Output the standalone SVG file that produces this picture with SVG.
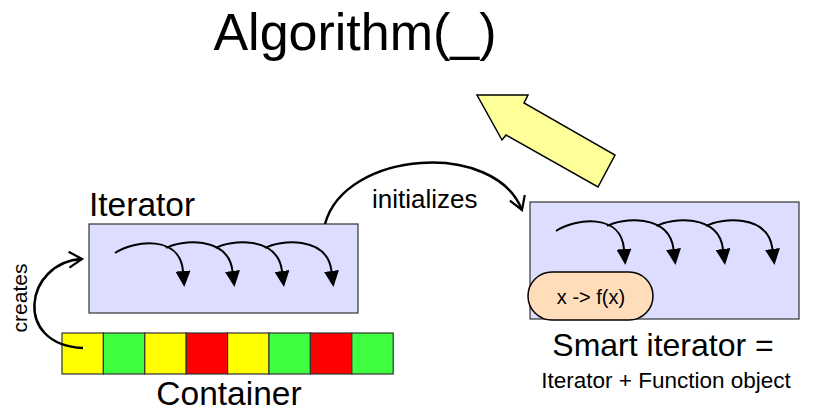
<svg xmlns="http://www.w3.org/2000/svg" width="819" height="411" viewBox="0 0 819 411">
  <style>
    text { font-family: "Liberation Sans", Arial, sans-serif; fill: #000; }
    .box { fill: #DDDDFF; stroke: #333; stroke-width: 1.2; }
    .cell { stroke: #333; stroke-width: 1.2; }
    .arc { fill: none; stroke: #000; stroke-width: 2; }
    .link { fill: none; stroke: #000; stroke-width: 2.5; }
  </style>
  <defs>
    <marker id="solid" viewBox="0 0 16 15" refX="0" refY="7.5" markerWidth="16" markerHeight="15" markerUnits="userSpaceOnUse" orient="auto">
      <path d="M0,0 L16,7.5 L0,15 z" fill="#000"/>
    </marker>
    <marker id="open" viewBox="0 0 16 18" refX="14" refY="9" markerWidth="16" markerHeight="18" markerUnits="userSpaceOnUse" orient="auto">
      <path d="M1,1 L14,9 L1,17" fill="none" stroke="#000" stroke-width="2.2"/>
    </marker>
    <!-- four hops of an iterator, drawn relative to its box corner -->
    <g id="hops">
      <path class="arc" d="M26 29 C46 16, 91 11, 94 47" marker-end="url(#solid)"/>
      <path class="arc" d="M77 24 C91 16, 139 11, 143.5 47" marker-end="url(#solid)"/>
      <path class="arc" d="M126.5 24 C140.5 16, 188.5 11, 193 47" marker-end="url(#solid)"/>
      <path class="arc" d="M176 24 C190 16, 238 11, 242.5 47" marker-end="url(#solid)"/>
    </g>
  </defs>

  <g id="algorithm">
    <text x="355" y="50" font-size="52" text-anchor="middle">Algorithm(_)</text>
  </g>

  <g id="big-arrow">
    <polygon points="477,95 528,95 524,103 615,155 598,187 506,135 502,140" fill="#FFFF99" stroke="#000" stroke-width="1.5" stroke-linejoin="miter"/>
  </g>

  <g id="iterator">
    <rect class="box" x="89" y="224" width="269" height="89"/>
    <use href="#hops" x="89" y="224"/>
    <text x="89" y="216" font-size="33.5">Iterator</text>
  </g>

  <g id="container">
    <rect class="cell" x="62" y="333" width="41.4" height="41" fill="#FFFF00"/>
    <rect class="cell" x="103.4" y="333" width="41.4" height="41" fill="#40FF40"/>
    <rect class="cell" x="144.8" y="333" width="41.4" height="41" fill="#FFFF00"/>
    <rect class="cell" x="186.2" y="333" width="41.4" height="41" fill="#FF0000"/>
    <rect class="cell" x="227.6" y="333" width="41.4" height="41" fill="#FFFF00"/>
    <rect class="cell" x="269" y="333" width="41.4" height="41" fill="#40FF40"/>
    <rect class="cell" x="310.4" y="333" width="41.4" height="41" fill="#FF0000"/>
    <rect class="cell" x="351.8" y="333" width="41.4" height="41" fill="#40FF40"/>
    <text x="229" y="405" font-size="33.5" text-anchor="middle">Container</text>
  </g>

  <g id="smart-iterator">
    <rect class="box" x="530" y="202" width="269" height="117"/>
    <use href="#hops" x="530" y="202"/>
    <rect x="528" y="272" width="125" height="48" rx="24" ry="24" fill="#FFDDBB" stroke="#000" stroke-width="1.5"/>
    <text x="591" y="304" font-size="20" text-anchor="middle">x -&gt; f(x)</text>
    <text x="663" y="356" font-size="32" text-anchor="middle">Smart iterator =</text>
    <text x="666" y="388" font-size="22.5" text-anchor="middle">Iterator + Function object</text>
  </g>

  <g id="connectors">
    <path class="link" d="M83 348 C12 345, 25 262, 82 259" marker-end="url(#open)"/>
    <text transform="translate(27,298) rotate(-90)" font-size="21" text-anchor="middle">creates</text>
    <path class="link" d="M325 224 C345 150, 495 140, 522 210" marker-end="url(#open)"/>
    <text x="372" y="208" font-size="26">initializes</text>
  </g>
</svg>
